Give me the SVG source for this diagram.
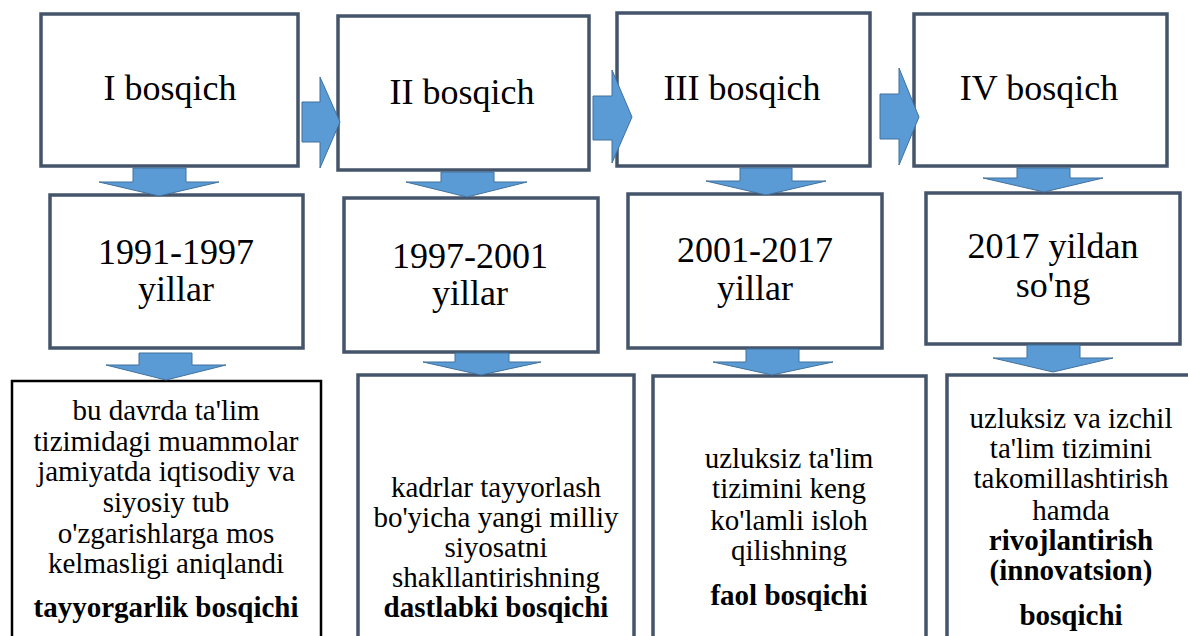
<svg xmlns="http://www.w3.org/2000/svg" width="1188" height="636" viewBox="0 0 1188 636">
<defs>
<style>
.box{fill:#fff;stroke:#44546A;stroke-width:3.5}
.boxk{fill:#fff;stroke:#000;stroke-width:2.5}
.arr{fill:#5B9BD5;stroke:#41719C;stroke-width:1}
</style>
</defs>
<rect width="1188" height="636" fill="#fff"/>
<g font-family="Liberation Serif" text-anchor="middle" fill="#000">
<g font-size="36">
<g id="stage1"><rect class="box" x="41" y="14" width="257" height="152"/><text x="170" y="100">I bosqich</text></g>
<g id="stage2"><rect class="box" x="338" y="16" width="251" height="154"/><text x="462" y="104">II bosqich</text></g>
<g id="stage3"><rect class="box" x="617" y="13" width="253" height="153"/><text x="742" y="100">III bosqich</text></g>
<g id="stage4"><rect class="box" x="914" y="14" width="253" height="152"/><text x="1039" y="100">IV bosqich</text></g>

<g id="years1"><rect class="box" x="50" y="195" width="253" height="153"/><text x="176" y="264">1991-1997</text><text x="176" y="301">yillar</text></g>
<g id="years2"><rect class="box" x="344" y="198" width="254" height="154"/><text x="470" y="268">1997-2001</text><text x="470" y="305">yillar</text></g>
<g id="years3"><rect class="box" x="628" y="194" width="254" height="154"/><text x="755" y="262">2001-2017</text><text x="755" y="300">yillar</text></g>
<g id="years4"><rect class="box" x="926" y="193" width="254" height="151"/><text x="1053" y="258">2017 yildan</text><text x="1053" y="297">so'ng</text></g>
</g>
<g font-size="29">
<g id="desc1"><rect class="boxk" x="12" y="381" width="309" height="270"/>
<text x="166"><tspan x="166" y="420">bu davrda ta'lim</tspan><tspan x="166" y="451">tizimidagi muammolar</tspan><tspan x="166" y="481">jamiyatda iqtisodiy va</tspan><tspan x="166" y="512">siyosiy tub</tspan><tspan x="166" y="543">o'zgarishlarga mos</tspan><tspan x="166" y="573">kelmasligi aniqlandi</tspan></text>
<text x="166" y="617" font-weight="bold">tayyorgarlik bosqichi</text></g>

<g id="desc2"><rect class="box" x="358" y="375" width="276" height="280"/>
<text x="496"><tspan x="496" y="497">kadrlar tayyorlash</tspan><tspan x="496" y="527">bo'yicha yangi milliy</tspan><tspan x="496" y="557">siyosatni</tspan><tspan x="496" y="587">shakllantirishning</tspan></text>
<text x="496" y="617" font-weight="bold">dastlabki bosqichi</text></g>

<g id="desc3"><rect class="box" x="653" y="376" width="273" height="280"/>
<text x="789"><tspan x="789" y="468">uzluksiz ta'lim</tspan><tspan x="789" y="498">tizimini keng</tspan><tspan x="789" y="530">ko'lamli isloh</tspan><tspan x="789" y="560">qilishning</tspan></text>
<text x="789" y="605" font-weight="bold">faol bosqichi</text></g>

<g id="desc4"><rect class="box" x="947" y="375" width="250" height="280"/>
<text x="1071"><tspan x="1071" y="428">uzluksiz va izchil</tspan><tspan x="1071" y="458">ta'lim tizimini</tspan><tspan x="1071" y="488">takomillashtirish</tspan><tspan x="1071" y="520">hamda</tspan></text>
<text x="1071" font-weight="bold"><tspan x="1071" y="550">rivojlantirish</tspan><tspan x="1071" y="580">(innovatsion)</tspan><tspan x="1071" y="625">bosqichi</tspan></text></g>
</g>
</g>

<g id="connectors">
<path class="arr" d="M302,102 H320 V77 L340,122 L320,168 V142 H302 Z"/>
<path class="arr" d="M593,96 H612 V70 L632,117 L612,163 V140 H593 Z"/>
<path class="arr" d="M880,94 H899 V68 L919,117 L899,165 V139 H880 Z"/>
<path class="arr" d="M133,168 H186 V182 H219 L159,196 L99,182 H133 Z"/>
<path class="arr" d="M441,172 H494 V182 H527 L467,197 L406,182 H441 Z"/>
<path class="arr" d="M740,168 H792 V181 H826 L766,195 L706,181 H740 Z"/>
<path class="arr" d="M1017,168 H1070 V178 H1103 L1044,192 L983,178 H1017 Z"/>
<path class="arr" d="M139,353 H192 V365 H226 L166,380 L106,365 H139 Z"/>
<path class="arr" d="M455,353 H509 V362 H541 L481,375 L423,362 H455 Z"/>
<path class="arr" d="M746,349 H799 V362 H833 L772,375 L713,362 H746 Z"/>
<path class="arr" d="M1027,345 H1080 V358 H1113 L1053,372 L993,358 H1027 Z"/>
</g>
</svg>
